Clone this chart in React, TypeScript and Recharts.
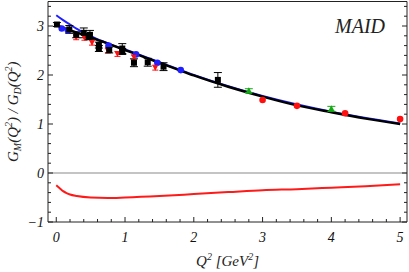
import {
  ComposedChart,
  Line,
  Scatter,
  ErrorBar,
  XAxis,
  YAxis,
  ReferenceLine,
  Label,
} from "recharts";

// theory curves
const maidQ2 = [0, 0.25, 0.5, 0.75, 1.0, 1.25, 1.5, 1.75, 2.0, 2.5, 3.0, 3.5, 4.0, 4.5, 5.0];
const maidRatio = [3.02, 2.89, 2.77, 2.64, 2.51, 2.38, 2.25, 2.12, 1.99, 1.76, 1.56, 1.38, 1.24, 1.11, 1.0];

const blueQ2 = [0, 0.1, 0.2, 0.3, 0.4, 0.5, 0.6, 0.8, 1.0, 1.5, 2.0, 3.0, 4.0, 5.0];
const blueRatio = [3.22, 3.12, 3.03, 2.94, 2.86, 2.8, 2.73, 2.62, 2.52, 2.26, 2.0, 1.57, 1.25, 1.01];

const diffQ2 = [0, 0.05, 0.1, 0.15, 0.2, 0.3, 0.5, 0.75, 1.0, 1.5, 2.0, 2.5, 3.0, 3.5, 4.0, 4.5, 5.0];
const diffRatio = [-0.25, -0.31, -0.37, -0.41, -0.44, -0.47, -0.5, -0.51, -0.5, -0.47, -0.43, -0.39, -0.35, -0.33, -0.3, -0.27, -0.23];

// data points
const blackQ2 = [0.01, 0.19, 0.29, 0.4, 0.47, 0.49, 0.62, 0.62, 0.77, 0.96, 0.96, 1.13, 1.33, 1.56, 2.35];
const blackVal = [3.03, 2.93, 2.82, 2.86, 2.78, 2.82, 2.61, 2.54, 2.51, 2.54, 2.48, 2.25, 2.26, 2.17, 1.9];
const blackErr = [0.04, 0.08, 0.06, 0.1, 0.06, 0.09, 0.06, 0.06, 0.06, 0.1, 0.06, 0.08, 0.08, 0.08, 0.15];

const blueDotQ2 = [0.08, 0.17, 0.76, 1.16, 1.47, 1.81];
const blueDotVal = [2.95, 2.91, 2.6, 2.42, 2.25, 2.1];

const redTriQ2 = [0.29, 0.41, 0.52, 0.75, 0.89, 1.13, 1.44];
const redTriVal = [2.77, 2.76, 2.66, 2.5, 2.43, 2.36, 2.15];
const redTriErr = [0.05, 0.05, 0.05, 0.05, 0.05, 0.05, 0.05];

const redDotQ2 = [3.0, 3.5, 4.2, 5.0];
const redDotVal = [1.49, 1.37, 1.22, 1.1];

const greenQ2 = [2.8, 4.0];
const greenVal = [1.68, 1.31];
const greenErr = [0.04, 0.05];

// major ticks carry labels, the rest are minor (every 0.2)
const xTicks = Array.from({ length: 26 }, (_, i) => +(i * 0.2).toFixed(1));
const yTicks = Array.from({ length: 23 }, (_, i) => +(-1 + i * 0.2).toFixed(1));

const pts = (xs: number[], ys: number[], es?: number[]) =>
  xs.map((x, i) => ({ x, y: ys[i], err: es ? es[i] : 0 }));

const serif = '"Liberation Serif", "DejaVu Serif", serif';
const xDom: [number, number] = [-0.12, 5.1];
const yDom: [number, number] = [-1, 3.5];
const TM = 9; // tick margin used by the labelled axes
const MAJ = 5;
const MIN = 3;

const isMajor = (v: number) => Math.abs(v - Math.round(v)) < 1e-6;
const fmt = (v: number) => (v < 0 ? "\u2212" + Math.abs(v) : String(v));

const BottomTick = (p: any) => {
  const v = p.payload.value;
  const edge = p.y - TM;
  const len = isMajor(v) ? MAJ : MIN;
  return (
    <g>
      <line x1={p.x} x2={p.x} y1={edge} y2={edge - len} stroke="#222" strokeWidth={1} />
      {isMajor(v) && (
        <text x={p.x} y={edge + 20} textAnchor="middle" fontFamily={serif} fontStyle="italic"
          fontSize={14} fill="#111">{fmt(v)}</text>
      )}
    </g>
  );
};

const TopTick = (p: any) => {
  const v = p.payload.value;
  const edge = p.y + TM;
  const len = isMajor(v) ? MAJ : MIN;
  return <line x1={p.x} x2={p.x} y1={edge} y2={edge + len} stroke="#222" strokeWidth={1} />;
};

const LeftTick = (p: any) => {
  const v = p.payload.value;
  const edge = p.x + TM;
  const len = isMajor(v) ? MAJ : MIN;
  return (
    <g>
      <line x1={edge} x2={edge + len} y1={p.y} y2={p.y} stroke="#222" strokeWidth={1} />
      {isMajor(v) && (
        <text x={edge - 4} y={p.y + 5} textAnchor="end" fontFamily={serif} fontStyle="italic"
          fontSize={14} fill="#111">{fmt(v)}</text>
      )}
    </g>
  );
};

const RightTick = (p: any) => {
  const v = p.payload.value;
  const edge = p.x - TM;
  const len = isMajor(v) ? MAJ : MIN;
  return <line x1={edge} x2={edge - len} y1={p.y} y2={p.y} stroke="#222" strokeWidth={1} />;
};

const Square = (p: any) => <rect x={p.cx - 3} y={p.cy - 3} width={6} height={6} fill="#000" />;
const BlueDot = (p: any) => <circle cx={p.cx} cy={p.cy} r={3.3} fill="#1f1fff" />;
const RedDot = (p: any) => <circle cx={p.cx} cy={p.cy} r={3.3} fill="#ff1010" />;
const RedTri = (p: any) => (
  <path d={`M${p.cx - 3},${p.cy - 2.5}L${p.cx + 3},${p.cy - 2.5}L${p.cx},${p.cy + 3}Z`} fill="#ff1010" />
);
const GreenTri = (p: any) => (
  <path d={`M${p.cx - 3.5},${p.cy + 3}L${p.cx + 3.5},${p.cy + 3}L${p.cx},${p.cy - 3.5}Z`} fill="#16a816" />
);

const YTitle = (props: any) => {
  const vb = props.viewBox;
  const cx = vb.x + 18;
  const cy = vb.y + vb.height / 2;
  return (
    <text x={cx} y={cy} transform={`rotate(-90 ${cx} ${cy})`} textAnchor="middle"
      fontFamily={serif} fontStyle="italic" fontSize={15} fill="#222">
      G<tspan fontSize={10} dy={3}>M</tspan>
      <tspan dy={-3}>(Q</tspan><tspan fontSize={10} dy={-6}>2</tspan>
      <tspan dy={6}>) / G</tspan><tspan fontSize={10} dy={3}>D</tspan>
      <tspan dy={-3}>(Q</tspan><tspan fontSize={10} dy={-6}>2</tspan>
      <tspan dy={6}>)</tspan>
    </text>
  );
};

const XTitle = (props: any) => {
  const vb = props.viewBox;
  const cx = vb.x + vb.width / 2;
  const cy = vb.y + 44;
  return (
    <text x={cx} y={cy} textAnchor="middle" fontFamily={serif} fontStyle="italic" fontSize={15} fill="#222">
      Q<tspan fontSize={10} dy={-6}>2</tspan>
      <tspan dy={6}> [GeV</tspan><tspan fontSize={10} dy={-6}>2</tspan>
      <tspan dy={6}>]</tspan>
    </text>
  );
};

export default function App() {
  return (
    <div style={{ position: "absolute", left: 0, top: 0, width: 409, height: 272, background: "#fff" }}>
      <ComposedChart width={409} height={272} margin={{ top: 0, right: 0, left: 0, bottom: 0 }}>
        <XAxis xAxisId="lab" dataKey="x" type="number" domain={xDom} allowDataOverflow ticks={xTicks}
          interval={0} height={50} tickLine={false} axisLine={{ stroke: "#222" }} tickSize={0}
          tickMargin={TM} tick={BottomTick}>
          <Label content={XTitle} />
        </XAxis>
        <XAxis xAxisId="top" orientation="top" type="number" domain={xDom} allowDataOverflow ticks={xTicks}
          interval={0} height={1.5} tickLine={false} axisLine={{ stroke: "#222" }} tickSize={0}
          tickMargin={TM} tick={TopTick} />
        <YAxis yAxisId="lab" dataKey="y" type="number" domain={yDom} allowDataOverflow ticks={yTicks}
          interval={0} width={48} tickLine={false} axisLine={{ stroke: "#222" }} tickSize={0}
          tickMargin={TM} tick={LeftTick}>
          <Label content={YTitle} />
        </YAxis>
        <YAxis yAxisId="right" orientation="right" type="number" domain={yDom} allowDataOverflow ticks={yTicks}
          interval={0} width={2} tickLine={false} axisLine={{ stroke: "#222" }} tickSize={0}
          tickMargin={TM} tick={RightTick} />

        <ReferenceLine xAxisId="lab" yAxisId="lab" y={0} stroke="#8a8a8a" strokeWidth={1.2} />

        <Line xAxisId="lab" yAxisId="lab" data={pts(diffQ2, diffRatio)} dataKey="y" type="monotone"
          stroke="#ff1a1a" strokeWidth={2} dot={false} isAnimationActive={false} />
        <Line xAxisId="lab" yAxisId="lab" data={pts(blueQ2, blueRatio)} dataKey="y" type="monotone"
          stroke="#2020ff" strokeWidth={2} dot={false} isAnimationActive={false} />
        <Line xAxisId="lab" yAxisId="lab" data={pts(maidQ2, maidRatio)} dataKey="y" type="monotone"
          stroke="#000" strokeWidth={2.4} dot={false} isAnimationActive={false} />

        <Scatter xAxisId="lab" yAxisId="lab" data={pts(blueDotQ2, blueDotVal)} dataKey="y"
          shape={BlueDot} isAnimationActive={false} />
        <Scatter xAxisId="lab" yAxisId="lab" data={pts(redTriQ2, redTriVal, redTriErr)} dataKey="y"
          shape={RedTri} isAnimationActive={false}>
          <ErrorBar dataKey="err" direction="y" width={3} stroke="#ff1010" strokeWidth={1} />
        </Scatter>
        <Scatter xAxisId="lab" yAxisId="lab" data={pts(blackQ2, blackVal, blackErr)} dataKey="y"
          shape={Square} isAnimationActive={false}>
          <ErrorBar dataKey="err" direction="y" width={4} stroke="#000" strokeWidth={1} />
        </Scatter>
        <Scatter xAxisId="lab" yAxisId="lab" data={pts(redDotQ2, redDotVal)} dataKey="y"
          shape={RedDot} isAnimationActive={false} />
        <Scatter xAxisId="lab" yAxisId="lab" data={pts(greenQ2, greenVal, greenErr)} dataKey="y"
          shape={GreenTri} isAnimationActive={false}>
          <ErrorBar dataKey="err" direction="y" width={4} stroke="#16a816" strokeWidth={1} />
        </Scatter>
      </ComposedChart>
      <div style={{ position: "absolute", left: 335, top: 16, fontFamily: serif, fontStyle: "italic",
        fontSize: 20, lineHeight: "20px", color: "#222" }}>
        MAID
      </div>
    </div>
  );
}
